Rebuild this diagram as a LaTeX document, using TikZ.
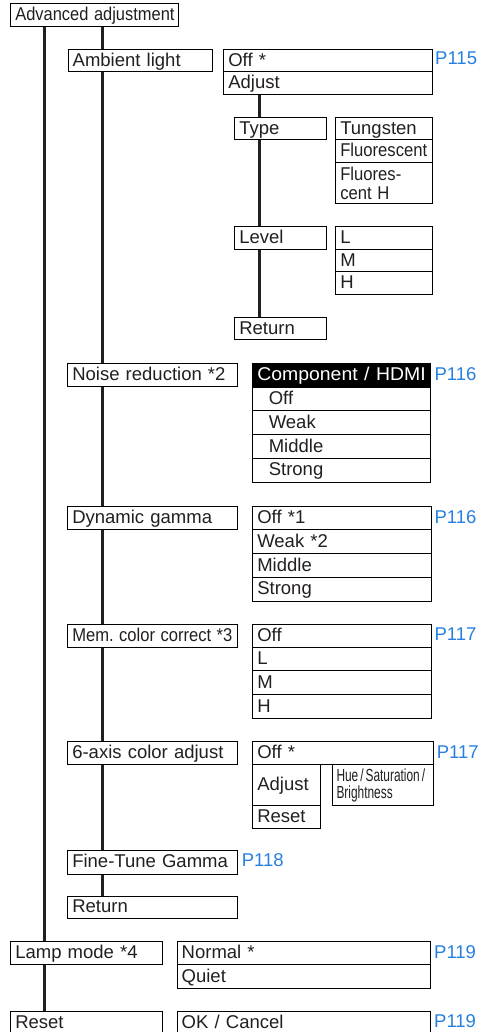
\documentclass[tikz,border=0pt]{standalone}
\usepackage{fontspec}
\setmainfont{Liberation Sans}
\usepackage{graphicx}
\definecolor{ink}{RGB}{35,31,32}
\definecolor{prefblue}{RGB}{40,128,222}
\pgfdeclarelayer{background}
\pgfsetlayers{background,main}
\tikzset{
  every node/.style={font=\fontsize{18.5}{19}\selectfont},
  box/.style={draw=black, line width=1pt, fill=white, text=ink, anchor=north west,
              inner ysep=0pt, inner xsep=4.5pt, align=left},
  one/.style={text height=14pt, text depth=3.5pt},
  pref/.style={text=prefblue, anchor=base west, inner sep=0pt},
  conn/.style={draw=ink, line width=2.5pt},
}
\newcommand\bx[7][]{%
  \pgfmathsetmacro\bxw{#5-#3}%
  \pgfmathsetmacro\bxh{#6-#4}%
  \pgfmathsetmacro\bxt{#5-#3-9}%
  \node[box, one, minimum width=\bxw pt, minimum height=\bxh pt, text width=\bxt pt, #1] (#2) at (#3,#4) {#7};}
\begin{document}
\begin{tikzpicture}[x=1pt,y=-1pt]
\useasboundingbox (0,0) rectangle (488,1032);
\clip (0,0) rectangle (488,1032);
% top level
\bx{adv}{10.3}{3.3}{178}{26.3}{\scalebox{0.89}[1]{Advanced adjustment}}
% Ambient light
\bx{amb}{67.7}{49.3}{212}{71.3}{Ambient light}
\bx{ambOff}{223.3}{49.3}{431.7}{71.3}{Off *}
\bx{ambAdj}{223.3}{71.3}{431.7}{94.3}{Adjust}
\node[pref] (p115) at (435,65) {P115};
\bx{type}{234.3}{117.3}{326.3}{139.3}{Type}
\bx{tung}{335.3}{117.3}{431.7}{139.3}{Tungsten}
\bx{fluo}{335.3}{139.3}{431.7}{162.3}{\scalebox{0.9}[1]{Fluorescent}}
\node[box, minimum width=96.4pt, minimum height=40.7pt, text width=87.4pt] (fluoH) at (335.3,162.3)
  {\scalebox{0.9}[1]{Fluores-}\\\scalebox{0.9}[1]{cent H}};
\bx{level}{234.3}{226}{326.3}{249.3}{Level}
\bx{lvL}{335.3}{226}{431.7}{249.3}{L}
\bx{lvM}{335.3}{249.3}{431.7}{271.3}{M}
\bx{lvH}{335.3}{271.3}{431.7}{294.3}{H}
\bx{ret1}{234.3}{317.3}{326.3}{339.3}{Return}
% Noise reduction
\bx{nr}{67.3}{363.3}{237.3}{386.3}{Noise reduction *2}
\bx[fill=black,text=white]{comp}{252.3}{363.3}{430.3}{386.7}{\scalebox{1.05}[1]{Component / HDMI}}
\node[pref] (p116a) at (434.3,380.7) {P116};
\bx{nrOff}{252.3}{386.7}{430.3}{410.3}{\hspace*{11.5pt}Off}
\bx{nrWeak}{252.3}{410.3}{430.3}{434.3}{\hspace*{11.5pt}Weak}
\bx{nrMid}{252.3}{434.3}{430.3}{458.3}{\hspace*{11.5pt}Middle}
\bx{nrStr}{252.3}{458.3}{430.3}{482}{\hspace*{11.5pt}Strong}
% Dynamic gamma
\bx{dg}{67.3}{506}{237.3}{529.3}{Dynamic gamma}
\bx{dgOff}{252.3}{506}{430.7}{529.3}{Off *1}
\bx{dgWeak}{252.3}{529.3}{430.7}{553.3}{Weak *2}
\bx{dgMid}{252.3}{553.3}{430.7}{577.3}{Middle}
\bx{dgStr}{252.3}{577.3}{430.7}{601}{Strong}
\node[pref] (p116b) at (434.3,523.3) {P116};
% Mem. color correct
\bx{mem}{67.3}{624.3}{237.3}{646.5}{\scalebox{0.895}[1]{Mem.\ color correct *3}}
\bx{memOff}{252.3}{624.3}{430.7}{646.5}{Off}
\bx{memL}{252.3}{646.5}{430.7}{670.3}{L}
\bx{memM}{252.3}{670.3}{430.7}{694.3}{M}
\bx{memH}{252.3}{694.3}{430.7}{718.3}{H}
\node[pref] (p117a) at (434.3,640) {P117};
% 6-axis color adjust
\bx{six}{67.3}{741.3}{237.3}{764.3}{6-axis color adjust}
\bx{sixOff}{252.3}{741.3}{433.3}{764.3}{Off *}
\node[pref] (p117b) at (436.7,758.3) {P117};
\bx{sixAdj}{252.3}{764.3}{320.3}{805.3}{Adjust}
\bx{sixReset}{252.3}{805.3}{320.3}{828.3}{Reset}
\node[box, minimum width=101.3pt, minimum height=41pt, text width=93.3pt, inner xsep=4pt,
      font=\fontsize{17.5}{17.6}\selectfont] (hue) at (332,764.3)
  {\scalebox{0.68}[1]{Hue\,/\,Saturation\,/}\\\scalebox{0.68}[1]{Brightness}};
% Fine-Tune Gamma, Return
\bx{ftg}{67.3}{850.3}{237.3}{873.7}{Fine-Tune Gamma}
\node[pref] (p118) at (241.7,866.7) {P118};
\bx{ret2}{67.3}{896}{237.3}{918.3}{Return}
% Lamp mode
\bx{lamp}{10.3}{941.3}{162.3}{964.3}{Lamp mode *4}
\bx{normal}{176.7}{941.3}{430.3}{964.3}{Normal *}
\bx{quiet}{176.7}{964.3}{430.3}{988.3}{Quiet}
\node[pref] (p119a) at (434,958.3) {P119};
% Reset
\bx{reset}{10.3}{1011}{162.3}{1034}{Reset}
\bx{okc}{176.7}{1011}{430.3}{1034}{OK / Cancel}
\node[pref] (p119b) at (434,1027.5) {P119};
% connectors
\coordinate (xa) at (44.3,0);
\coordinate (xb) at (102.7,0);
\coordinate (xc) at (259.3,0);
\begin{pgfonlayer}{background}
\draw[conn] (adv.south -| xa) -- (reset.north -| xa);
\draw[conn] (adv.south -| xb) -- (ret2.north -| xb);
\draw[conn] (ambAdj.south -| xc) -- (ret1.north -| xc);
\end{pgfonlayer}
\end{tikzpicture}
\end{document}
